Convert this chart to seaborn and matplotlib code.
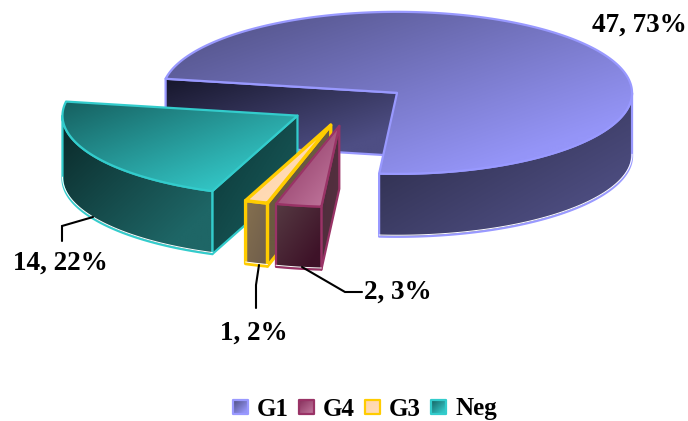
import numpy as np
import matplotlib
matplotlib.use("Agg")
import matplotlib.pyplot as plt
from matplotlib.patches import Polygon
import seaborn as sns

# Tumour grade counts
categories = ["G1", "G4", "G3", "Neg"]
counts = [47, 2, 1, 14]

# Appearance of each slice: edge, top face, outer wall and radial wall gradients
edge_colors = ["#9999ff", "#993366", "#ffcc00", "#33cccc"]
top_shades = [("#4e4e80", "#9595f8"), ("#86305c", "#bb6f96"),
              ("#ffd6ac", "#ffdcb8"), ("#166060", "#33c6c6")]
wall_shades = [("#26263f", "#4e4e82"), ("#553a42", "#3e1228"),
               ("#85704f", "#72604c"), ("#0a2828", "#1e6666")]
side_shades = [("#17172c", "#4e4e84"), ("#4e2c3c", "#54303f"),
               ("#6a5a40", "#6a5a40"), ("#0c3636", "#185a5a")]
label_spots = [(639.5, 25), (398, 292), (253.5, 333), (60.5, 263)]
leader_paths = [None,
                [(302, 267), (345, 292), (362, 292)],
                [(259, 265), (256, 285), (256, 308)],
                [(93, 217), (62, 226), (62, 241)]]
# Slices are painted back to front
paint_order = [0, 3, 2, 1]

sns.set_theme(style="white")
plt.rcParams["font.family"] = ["Liberation Serif", "DejaVu Serif"]

RX, RY, DEPTH = 235, 81, 63
CX, CY = 349.7, 105.5
EXPLODE = 0.255
START_ANGLE = 170

fig = plt.figure(figsize=(6.88, 4.21), dpi=100)
ax = fig.add_axes([0, 0, 1, 1])
ax.set_axis_off()


def rim(apex, degrees):
    """Screen points on the slice's upper rim for the given angles."""
    t = np.radians(degrees)
    return np.column_stack([apex[0] + RX * np.cos(t), apex[1] - RY * np.sin(t)])


def shaded_face(points, shades, edge, lw=1.6, zorder=1):
    """Fill a polygon with a diagonal gradient and outline it."""
    points = np.asarray(points)
    x0, y0 = points.min(axis=0)
    x1, y1 = points.max(axis=0)
    u, v = np.meshgrid(np.linspace(0, 1, 64), np.linspace(0, 1, 64))
    cmap = sns.blend_palette(shades, as_cmap=True)
    img = ax.imshow(np.clip(0.6 * u + 0.6 * v, 0, 1), cmap=cmap, vmin=0, vmax=1,
                    aspect="auto", extent=(x0, x1, y1, y0), origin="upper",
                    interpolation="bilinear", zorder=zorder)
    outline = Polygon(points, closed=True, facecolor="none", edgecolor=edge,
                      lw=lw, joinstyle="round", zorder=zorder + 0.1)
    ax.add_patch(outline)
    clip = Polygon(points, closed=True, transform=ax.transData)
    img.set_clip_path(clip)


fractions = np.array(counts) / sum(counts)
boundaries = START_ANGLE - np.concatenate([[0], np.cumsum(fractions)]) * 360

for rank, i in enumerate(paint_order):
    cat = categories[i]
    a_start, a_end = boundaries[i], boundaries[i + 1]
    mid = np.radians((a_start + a_end) / 2)
    apex = (CX + EXPLODE * RX * np.cos(mid), CY - EXPLODE * RY * np.sin(mid))
    z = 2 + rank
    edge = edge_colors[i]
    lw = 2.4 if cat == "G3" else 1.6
    drop = np.array([0, DEPTH])

    # Radial wall on the leading side of the slice
    first = rim(apex, [a_start])[0]
    shaded_face([apex, first, first + drop, np.array(apex) + drop],
                side_shades[i], edge, lw, z)

    # Outer wall: only the part of the rim that faces the viewer
    front_hi = a_start if a_start < 0 else 0
    front_lo = max(a_end, -180)
    arc = rim(apex, np.linspace(front_hi, front_lo, 90))
    shaded_face(np.vstack([arc, (arc + drop)[::-1]]), wall_shades[i], edge, lw, z + 0.2)
    lower = arc + drop - [0, 1.6]
    ax.plot(lower[:, 0], lower[:, 1], color="white", lw=0.7, zorder=z + 0.35)

    # Top face
    sweep = rim(apex, np.linspace(a_start, a_end, 240))
    shaded_face(np.vstack([[apex], sweep]), top_shades[i], edge, lw, z + 0.4)

    # Value label with optional leader line
    pct = round(100 * fractions[i])
    ax.text(*label_spots[i], f"{counts[i]}, {pct}%", fontsize=19.5, fontweight="bold",
            color="black", ha="center", va="center", zorder=20)
    if leader_paths[i]:
        xs, ys = zip(*leader_paths[i])
        ax.plot(xs, ys, color="black", lw=1.5, zorder=19, solid_joinstyle="miter")

# Legend row: gradient swatch followed by the category name
for i, cat in enumerate(categories):
    left = 233 + 66 * i
    square = [(left, 400), (left + 15, 400), (left + 15, 414), (left, 414)]
    shaded_face(square, top_shades[i], edge_colors[i], 1.6, 15)
    ax.text(left + 24, 409, cat, fontsize=18, fontweight="bold", color="black",
            ha="left", va="center", zorder=20)

ax.set_xlim(0, 688)
ax.set_ylim(421, 0)
fig.savefig("out.png", dpi=100, facecolor="white")
